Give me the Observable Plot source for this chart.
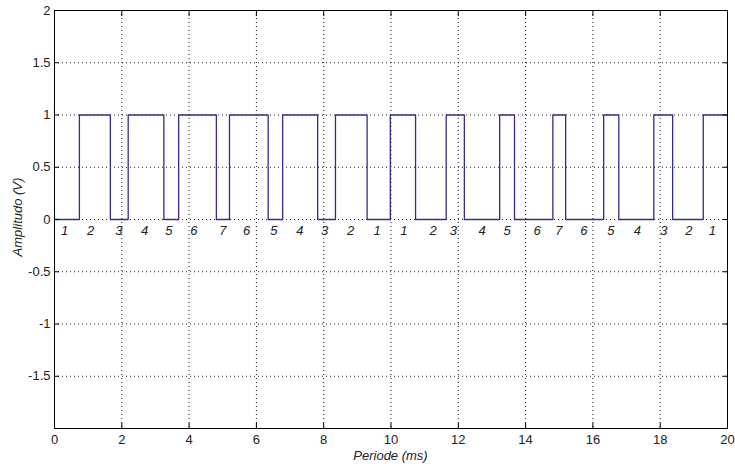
<!DOCTYPE html>
<html>
<head>
<meta charset="utf-8">
<script src="https://cdn.jsdelivr.net/npm/d3@7"></script>
<script src="https://cdn.jsdelivr.net/npm/@observablehq/plot@0.6"></script>
<style>
  html, body { margin: 0; padding: 0; background: #fff; }
  #chart { width: 735px; height: 469px; }
</style>
</head>
<body>
<div id="chart"></div>
<script>
// Waveform: transition times (ms) and the level (V) that starts at each time
const times  = [0, 0.74, 1.66, 2.19, 3.25, 3.69, 4.81, 5.20, 6.35, 6.78, 7.82, 8.35, 9.29, 9.98, 10.73, 11.64, 12.18, 13.23, 13.67, 14.81, 15.19, 16.32, 16.77, 17.81, 18.37, 19.28, 20];
const levels = [0,    1,    0,    1,    0,    1,    0,    1,    0,    1,    0,    1,    0,    1,     0,     1,     0,     1,     0,     1,     0,     1,     0,     1,     0,     1,  1];

// Number annotations under the waveform
const labelX    = [0.30, 1.07, 1.91, 2.68, 3.40, 4.14, 5.00, 5.71, 6.52, 7.29, 8.03, 8.80, 9.59, 10.38, 11.25, 11.85, 12.71, 13.45, 14.34, 14.99, 15.73, 16.53, 17.32, 18.11, 18.85, 19.55];
const labelText = ["1","2","3","4","5","6","7","6","5","4","3","2","1","1","2","3","4","5","6","7","6","5","4","3","2","1"];
const labelY = -0.11;

// Axis ticks
const xTicks = [0, 2, 4, 6, 8, 10, 12, 14, 16, 18, 20];
const yTicks = [-2, -1.5, -1, -0.5, 0, 0.5, 1, 1.5, 2];
const yTickLabels = [-1.5, -1, -0.5, 0, 0.5, 1, 1.5, 2];
const xGrid = [2, 4, 6, 8, 10, 12, 14, 16, 18];
const yGrid = [-1.5, -1, -0.5, 0, 0.5, 1, 1.5];

const wave = times.map((t, i) => ({t, v: levels[i]}));
const labels = labelX.map((x, i) => ({x, text: labelText[i]}));

const tickFont = "'Liberation Sans', Arial, sans-serif";
const plainFormat = d => String(d);

const chart = Plot.plot({
  width: 735,
  height: 469,
  marginLeft: 54,
  marginRight: 8,
  marginTop: 10,
  marginBottom: 41,
  style: {background: "#fff", fontFamily: tickFont, fontSize: "13px", color: "#000"},
  x: {domain: [0, 20], label: null},
  y: {domain: [-2, 2], label: null},
  marks: [
    Plot.ruleX(xGrid, {stroke: "#000", strokeWidth: 1, strokeDasharray: "1,3", strokeOpacity: 0.9}),
    Plot.ruleY(yGrid, {stroke: "#000", strokeWidth: 1, strokeDasharray: "1,3", strokeOpacity: 0.9}),
    Plot.line(wave, {x: "t", y: "v", curve: "step-after", stroke: "#30308c", strokeWidth: 1.3}),
    Plot.text(labels, {x: "x", y: () => labelY, text: "text", fontStyle: "italic", fontSize: 13, fill: "#222", fontFamily: "'Liberation Sans', Arial, sans-serif"}),
    // tick labels
    Plot.axisX(xTicks, {anchor: "bottom", tickSize: 0, tickPadding: 6, fontSize: 13, tickFormat: plainFormat, label: null, fill: "#222"}),
    Plot.axisY(yTickLabels, {anchor: "left", tickSize: 0, tickPadding: 4, fontSize: 13, tickFormat: plainFormat, label: null, fill: "#222"}),
    // inward tick marks on all sides
    Plot.axisX(xTicks, {anchor: "bottom", tickSize: -5, tickFormat: () => "", label: null}),
    Plot.axisX(xTicks, {anchor: "top", tickSize: -5, tickFormat: () => "", label: null}),
    Plot.axisY(yTicks, {anchor: "left", tickSize: -5, tickFormat: () => "", label: null}),
    Plot.axisY(yTicks, {anchor: "right", tickSize: -5, tickFormat: () => "", label: null}),
    Plot.frame({stroke: "#000", strokeWidth: 1})
  ]
});

const wrap = document.getElementById("chart");
wrap.appendChild(chart);

// Axis titles as real text in the SVG
const svg = d3.select(chart);
svg.append("text")
  .attr("x", 390.5).attr("y", 460)
  .attr("text-anchor", "middle")
  .attr("font-style", "italic")
  .attr("font-size", 13)
  .attr("font-family", "'Liberation Sans', Arial, sans-serif")
  .attr("fill", "#222")
  .text("Periode (ms)");
svg.append("text")
  .attr("transform", "translate(22,217) rotate(-90)")
  .attr("text-anchor", "middle")
  .attr("font-style", "italic")
  .attr("font-size", 13)
  .attr("font-family", "'Liberation Sans', Arial, sans-serif")
  .attr("fill", "#222")
  .text("Amplitudo (V)");
</script>
</body>
</html>
